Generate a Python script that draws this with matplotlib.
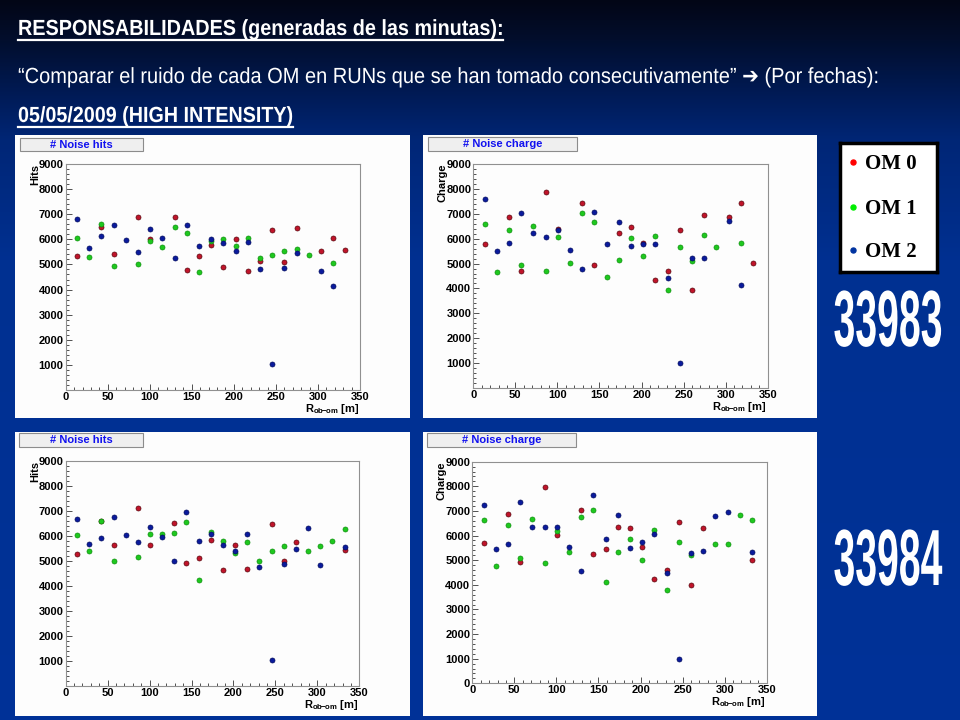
import numpy as np
import matplotlib
matplotlib.use('Agg')
import matplotlib.pyplot as plt
from matplotlib.patches import Rectangle
from matplotlib.lines import Line2D
from matplotlib.patheffects import AbstractPathEffect
from matplotlib.transforms import Affine2D
from matplotlib.ticker import MultipleLocator

nan = np.nan

# distancia R_ob-om (m)
R = [13.5, 28, 42.5, 57, 71.5, 86, 100.5, 115, 129.5, 144, 158.5, 173, 187.5,
     202, 216.5, 231, 245.5, 260, 274.5, 289, 303.5, 318, 332.5]

# run 33983 - noise hits
hits_33983_om0 = [5338, nan, 6502, 5418, nan, 6903, 6020, nan, 6903, 4763, 5351, 5793, 4896,
                  6007, 4736, 5124, 6355, 5084, 6435, nan, 5538, 6060, 5579]
hits_33983_om1 = [6047, 5311, 6622, 4936, nan, 5030, 5926, 5712, 6475, 6247, 4709, 5940, 6020,
                  5726, 6060, 5271, 5378, 5538, 5619, 5378, nan, 5057, nan]
hits_33983_om2 = [6809, 5659, 6114, 6555, 5967, 5498, 6395, 6060, 5258, 6569, 5753, 6020, 5860,
                  5538, 5900, 4803, 1050, 4856, 5445, nan, 4736, 4134, nan]

# run 33983 - noise charge
charge_33983_om0 = [5799, nan, 6859, 4685, nan, 7893, 6403, nan, 7436, 4940, nan, 6228, 6456,
                    5839, 4349, 4711, 6349, 3933, 6953, nan, 6886, 7423, 5034]
charge_33983_om1 = [6604, 4644, 6336, 4953, 6523, 4698, 6054, 5034, 7047, 6658, 4470, 5154, 6013,
                    5315, 6121, 3933, 5664, 5114, 6161, 5678, nan, 5839, nan]
charge_33983_om2 = [7584, 5517, 5839, 7034, 6215, 6081, 6362, 5544, 4792, 7087, 5772, 6671, 5691,
                    5785, 5785, 4416, 1010, 5208, 5235, nan, 6698, 4121, nan]

# run 33984 - noise hits
hits_33984_om0 = [5267, nan, 6587, 5653, nan, 7133, 5640, nan, 6507, 4920, 5107, 5853, 4640,
                  5640, 4680, nan, 6493, 5000, 5760, nan, nan, nan, 5427]
hits_33984_om1 = [6027, 5400, 6613, 5000, nan, 5173, 6080, 6067, 6133, 6560, 4253, 6147, 5800,
                  5320, 5773, 5013, 5400, 5587, nan, 5400, 5587, 5813, 6267]
hits_33984_om2 = [6667, 5667, 5907, 6773, 6040, 5747, 6373, 5973, 4987, 6973, 5800, 6067, 5640,
                  5413, 6067, 4760, 1040, 4880, 5493, 6333, 4853, nan, 5547]

# run 33984 - noise charge
charge_33984_om0 = [5710, nan, 6896, 4929, nan, 7987, 6034, nan, 7057, 5253, 5468, 6343, 6290,
                    5522, 4256, 4606, 6559, 3973, 6303, nan, nan, nan, 4997]
charge_33984_om1 = [6613, 4768, 6411, 5091, 6667, 4889, 6182, 5333, 6747, 7057, 4094, 5333, 5859,
                    5024, 6222, 3771, 5751, 5226, nan, 5670, 5670, 6855, 6640]
charge_33984_om2 = [7259, 5455, 5670, 7380, 6357, 6343, 6357, 5549, 4552, 7663, 5872, 6842, 5508,
                    5737, 6061, 4471, 1000, 5293, 5360, 6788, 6950, nan, 5320]

om_names = ['OM 0', 'OM 1', 'OM 2']
om_colors = ['#c0142a', '#1ec81e', '#0a1a9c']
om_edges = ['#5a0a10', '#109010', '#050f60']
legend_colors = ['#ff0000', '#00ee00', '#0033a0']

W, H = 960, 720
plt.rcParams['font.family'] = ['Liberation Sans', 'DejaVu Sans']
plt.rcParams['font.weight'] = 'bold'
plt.rcParams['mathtext.fontset'] = 'custom'
plt.rcParams['mathtext.rm'] = 'Liberation Sans:bold'
plt.rcParams['mathtext.it'] = 'Liberation Sans:bold'
plt.rcParams['mathtext.bf'] = 'Liberation Sans:bold'


class Stretch(AbstractPathEffect):
    # deforma el texto (estrecho y alto, como Arial Narrow)
    def __init__(self, sx, sy, x0, y0):
        super().__init__()
        self.sx, self.sy = sx, sy
        self.x0, self.y0 = x0, y0

    def draw_path(self, renderer, gc, tpath, affine, rgbFace=None):
        t = affine + Affine2D().translate(-self.x0, -self.y0).scale(self.sx, self.sy) \
            .translate(self.x0, self.y0)
        renderer.draw_path(gc, tpath, t, rgbFace)


def box(x0, y0, x1, y1):
    return [x0 / W, 1 - y1 / H, (x1 - x0) / W, (y1 - y0) / H]


def squeezed_text(s, x, yb, target_w, cap_px, size, ha='left', **kw):
    t = fig.text(x / W, 1 - yb / H, s, fontsize=size, ha=ha, va='baseline', **kw)
    w = t.get_window_extent(renderer).width
    sy = cap_px / (0.716 * size * 100 / 72)
    t.set_path_effects([Stretch(target_w / w, sy, x, H - yb)])
    return t


fig = plt.figure(figsize=(9.6, 7.2), dpi=100)
renderer = fig.canvas.get_renderer()

# fondo degradado
bg = fig.add_axes([0, 0, 1, 1], zorder=-10)
bg.axis('off')
rows = np.arange(H)
stops_y = [0, 40, 100, 140, 260, 720]
stops_c = [(2, 6, 22), (2, 14, 45), (0, 28, 90), (0, 38, 118), (0, 48, 145), (0, 50, 152)]
grad = np.zeros((H, 2, 3))
for k in range(3):
    grad[:, :, k] = np.interp(rows, stops_y, [c[k] for c in stops_c])[:, None] / 255
bg.imshow(grad, aspect='auto', extent=[0, 1, 0, 1])
bg.set_xlim(0, 1)
bg.set_ylim(0, 1)

# cabecera
header = [
    ('RESPONSABILIDADES (generadas de las minutas):', 35, 485, 'bold', True),
    ('\u201cComparar el ruido de cada OM en RUNs que se han tomado consecutivamente\u201d '
     '\u2794 (Por fechas):', 83, 859, 'normal', False),
    ('05/05/2009 (HIGH INTENSITY)', 122, 275, 'bold', True),
]
for s, yb, tw, wt, ul in header:
    squeezed_text(s, 18, yb, tw, 15.7, 13, color='white', fontweight=wt)
    if ul:
        fig.add_artist(Line2D([18 / W, (18 + tw) / W], [1 - (yb + 5) / H] * 2,
                              color='white', lw=1.6, transform=fig.transFigure))

panels = [
    # fondo, ejes, caja titulo, titulo, ylabel, series, cero en y
    ((15, 135, 410, 418), (65.7, 164, 360, 390), (20, 138, 143, 151), '# Noise hits', 'Hits',
     [hits_33983_om0, hits_33983_om1, hits_33983_om2], False),
    ((423, 135, 817, 418), (473.3, 164, 767.7, 388), (428, 137, 577, 151), '# Noise charge', 'Charge',
     [charge_33983_om0, charge_33983_om1, charge_33983_om2], False),
    ((15, 432, 410, 716), (65.7, 461, 359.3, 685.7), (19, 433, 143, 447), '# Noise hits', 'Hits',
     [hits_33984_om0, hits_33984_om1, hits_33984_om2], False),
    ((423, 432, 817, 716), (472.3, 461.7, 766.7, 683.3), (427, 433, 576, 447), '# Noise charge', 'Charge',
     [charge_33984_om0, charge_33984_om1, charge_33984_om2], True),
]

for pbox, abox, tbox, title, ylab, series, zero in panels:
    x0, y0, x1, y1 = pbox
    fig.add_artist(Rectangle((x0 / W, 1 - y1 / H), (x1 - x0) / W, (y1 - y0) / H,
                             transform=fig.transFigure, facecolor='#fdfdfd',
                             edgecolor='none', zorder=-5))
    bx0, by0, bx1, by1 = tbox
    fig.add_artist(Rectangle((bx0 / W, 1 - by1 / H), (bx1 - bx0) / W, (by1 - by0) / H,
                             transform=fig.transFigure, facecolor='#efefef',
                             edgecolor='#8c8c8c', lw=0.8, zorder=2))
    fig.text((bx0 + bx1) / 2 / W, 1 - (by0 + by1) / 2 / H, title, color='#1010f0',
             fontsize=8, ha='center', va='center', zorder=3)

    ax = fig.add_axes(box(*abox))
    ax.set_facecolor('none')
    for vals, col, ec in zip(series, om_colors, om_edges):
        ax.plot(R, vals, 'o', color=col, markersize=3.6, markeredgewidth=0.5,
                markeredgecolor=ec)
    ax.set_xlim(0, 350)
    ax.set_ylim(0, 9000)
    ax.set_xticks(range(0, 351, 50))
    ax.set_yticks(range(0 if zero else 1000, 9001, 1000))
    ax.xaxis.set_minor_locator(MultipleLocator(10))
    ax.yaxis.set_minor_locator(MultipleLocator(200))
    ax.tick_params(which='both', direction='in', top=False, right=False,
                   color='#505050', labelsize=8, width=0.7)
    ax.tick_params(which='major', length=4, pad=1.5)
    ax.tick_params(which='minor', length=2)
    for sp in ax.spines.values():
        sp.set_color('#909090')
        sp.set_linewidth(0.8)
    ax.text(-0.104, 1.0, ylab, rotation=90, ha='center', va='top', fontsize=8,
            transform=ax.transAxes)
    ax.text(0.995, -0.085, r'R$_{ob\!\!-\!\!om}$ [m]', ha='right', va='center', fontsize=8,
            transform=ax.transAxes)

# leyenda
leg = fig.add_axes(box(840, 143, 937, 272), zorder=2)
leg.set_xticks([])
leg.set_yticks([])
leg.set_xlim(0, 1)
leg.set_ylim(0, 1)
leg.set_facecolor('white')
for sp in leg.spines.values():
    sp.set_color('black')
    sp.set_linewidth(2.5)
for name, col, yy in zip(om_names, legend_colors, [0.853, 0.504, 0.171]):
    leg.plot([0.134], [yy], 'o', color=col, markersize=3.6)
    leg.text(0.258, yy, name, family=['Liberation Serif', 'DejaVu Serif'], fontsize=15,
             fontweight='bold', ha='left', va='center_baseline', color='black')

# numeros de run
for run, yb in [('33983', 346), ('33984', 585)]:
    squeezed_text(run, 888, yb, 109, 57, 28, ha='center', color='white', fontweight='bold')

fig.savefig('out.png', dpi=100)
